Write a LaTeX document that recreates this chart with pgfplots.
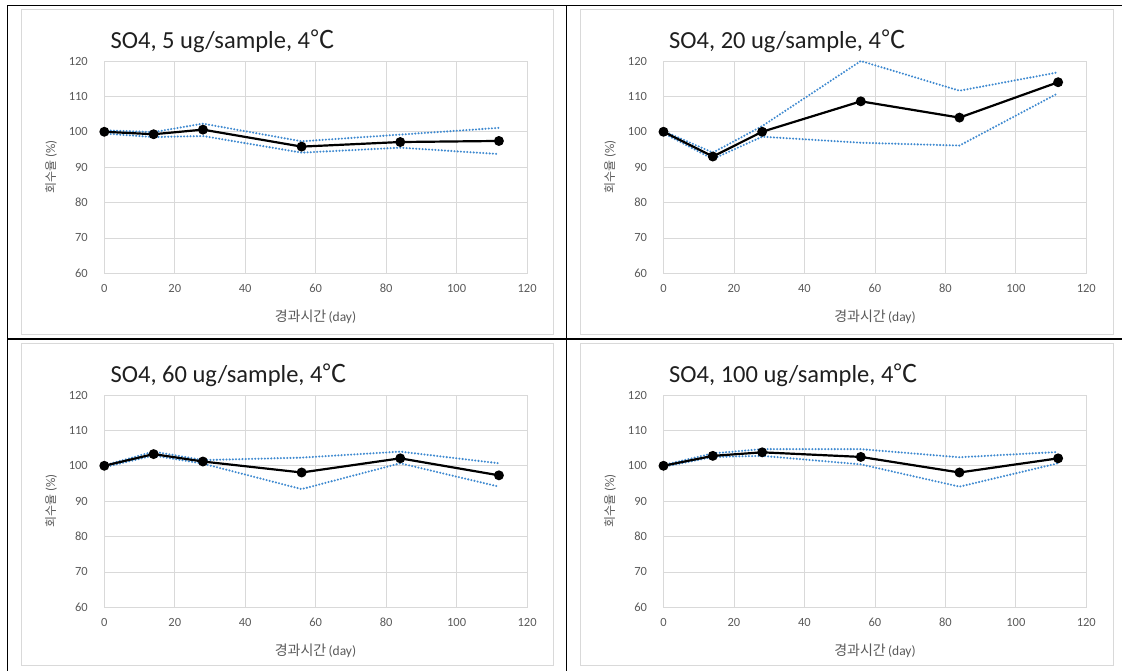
\documentclass[border=0pt]{standalone}
\usepackage{fontspec}
\setmainfont{Carlito}
\newfontfamily\kr{Noto Sans CJK KR}
\usepackage{pgfplots}
\usepackage{pgfplotstable}
\pgfplotsset{compat=1.18}
\definecolor{gridc}{HTML}{D9D9D9}
\definecolor{txt}{HTML}{595959}
\definecolor{dotblue}{HTML}{3F8AD0}

\pgfplotstableread{
day mean up lo
0 100 100.4 99.5
14 99.3 99.9 98.5
28 100.6 102.3 98.8
56 95.8 97.3 94.1
84 97.1 99.2 95.5
112 97.4 101.1 93.7
}\tA
\pgfplotstableread{
day mean up lo
0 100 100.2 99.6
14 93 94.1 92.3
28 100 101.6 98.6
56 108.6 120 96.9
84 104 111.6 96.1
112 114 116.8 110.9
}\tB
\pgfplotstableread{
day mean up lo
0 100 100.1 99.6
14 103.3 104 102.9
28 101.2 101.6 100.6
56 98.1 102.3 93.4
84 102.1 104 100.7
112 97.3 100.7 94.1
}\tC
\pgfplotstableread{
day mean up lo
0 100 100.2 99.7
14 102.8 103.5 102.5
28 103.8 104.7 102.8
56 102.5 104.7 100.4
84 98.1 102.4 94.1
112 102.1 103.9 100.7
}\tD

\pgfplotsset{panel/.style={scale only axis, width=422.8pt, height=212.3pt,
  xmin=0,xmax=120,ymin=60,ymax=120,
  xtick={0,20,...,120}, ytick={60,70,...,120},
  grid=major, major grid style={gridc, line width=0.8pt},
  axis line style={gridc, line width=0.8pt},
  major tick length=0pt,
  tick label style={font=\fontsize{12.5}{14}\selectfont, text=txt},
  /pgf/number format/assume math mode=true,
  xticklabel style={yshift=-7.5pt}, yticklabel style={xshift=-13pt},
  clip=false, anchor=south west}}

\newcommand\series[1]{%
  \addplot[dotblue, line width=2.3pt, dash pattern=on 0pt off 3.2pt, line cap=round] table[x=day,y=up]{#1};
  \addplot[dotblue, line width=2.3pt, dash pattern=on 0pt off 3.2pt, line cap=round] table[x=day,y=lo]{#1};
  \addplot[black, line width=2.2pt, mark=*, mark size=3.8pt] table[x=day,y=mean]{#1};
}

\newcommand\titlefont{\fontsize{24.5}{28}\selectfont}
\newcommand\xlab{{\kr\fontsize{14}{16}\selectfont 경과시간} {\fontsize{13.5}{16}\selectfont (day)}}
\newcommand\ylab{{\kr\fontsize{12}{14}\selectfont 회수율} {\fontsize{13}{15}\selectfont (\%)}}

\begin{document}
\begin{tikzpicture}[x=1pt,y=1pt]
\useasboundingbox (0,0) rectangle (1122,671);
% table lines
\draw[black, line width=1.5pt] (7,665.3) -- (1122,665.3);
\draw[black, line width=1.5pt] (7.3,665.3) -- (7.3,0);
\draw[black, line width=1.5pt] (566.5,665.3) -- (566.5,0);
\draw[black, line width=1.5pt] (7,332) -- (1122,332);
% chart area boxes
\draw[gridc, line width=0.8pt] (21.8,661.7) rectangle (553,337);
\draw[gridc, line width=0.8pt] (580.8,661.7) rectangle (1113.8,337);
\draw[gridc, line width=0.8pt] (21.8,327.7) rectangle (553,6);
\draw[gridc, line width=0.8pt] (580.8,327.7) rectangle (1113.8,6);

\begin{axis}[panel, at={(104.3pt,397.7pt)}]
\series{\tA}
\end{axis}
\begin{axis}[panel, at={(663.5pt,397.7pt)}]
\series{\tB}
\end{axis}
\begin{axis}[panel, at={(104.3pt,63.7pt)}]
\series{\tC}
\end{axis}
\begin{axis}[panel, at={(663.5pt,63.7pt)}]
\series{\tD}
\end{axis}

% titles
\node[anchor=base west, inner sep=0, text=black!88, font=\titlefont] at (110.5,622.5) {SO4, 5 ug/sample, 4{\kr ℃}};
\node[anchor=base west, inner sep=0, text=black!88, font=\titlefont] at (669,622.5) {SO4, 20 ug/sample, 4{\kr ℃}};
\node[anchor=base west, inner sep=0, text=black!88, font=\titlefont] at (110.5,288) {SO4, 60 ug/sample, 4{\kr ℃}};
\node[anchor=base west, inner sep=0, text=black!88, font=\titlefont] at (669,288) {SO4, 100 ug/sample, 4{\kr ℃}};
% x labels
\node[text=txt, inner sep=0] at (315.5,354) {\xlab};
\node[text=txt, inner sep=0] at (875,354) {\xlab};
\node[text=txt, inner sep=0] at (315.5,20.5) {\xlab};
\node[text=txt, inner sep=0] at (875,20.5) {\xlab};
% y labels
\node[text=txt, inner sep=0, rotate=90] at (51,504) {\ylab};
\node[text=txt, inner sep=0, rotate=90] at (610,504) {\ylab};
\node[text=txt, inner sep=0, rotate=90] at (51,170) {\ylab};
\node[text=txt, inner sep=0, rotate=90] at (610,170) {\ylab};
\end{tikzpicture}
\end{document}
